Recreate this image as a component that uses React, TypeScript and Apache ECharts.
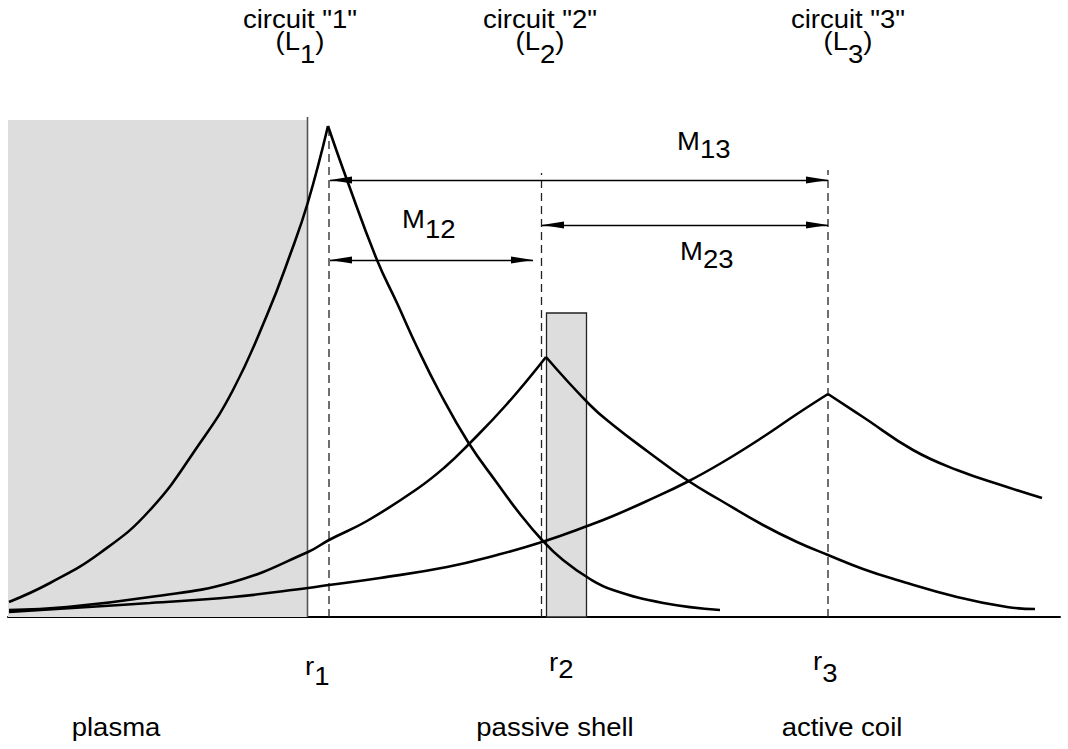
import { useEffect, useRef } from "react";
import * as echarts from "echarts";

// ---- data (x: radial position, y: field amplitude) ----
const curve1Left = [[9, 15], [50, 34], [100, 64], [150, 107], [200, 174], [233, 227], [267, 302], [290, 362], [308, 415], [328, 491]];
const curve1Right = [[328, 491], [347, 437], [377, 357], [397, 314], [417, 270], [440, 224], [468, 175], [497, 134], [520, 103], [542, 77], [563, 57], [590, 38], [613, 27], [663, 14], [720, 7]];
const curve2Left = [[9, 7], [67, 10], [150, 20], [233, 35], [308, 65], [329, 77], [367, 96], [417, 128], [445, 150], [468, 172], [507, 213], [546, 260]];
const curve2Right = [[546, 260], [590, 212], [613, 192], [647, 166], [687, 137], [720, 117], [763, 92], [797, 75], [828, 62], [863, 48], [897, 37], [957, 20], [1007, 10], [1035, 8]];
const curve3Left = [[9, 5], [150, 14], [233, 20], [308, 29], [329, 32], [380, 39], [447, 50], [497, 62], [542, 75], [590, 92], [613, 101], [647, 116], [687, 135], [723, 155], [763, 180], [797, 203], [828, 223]];
const curve3Right = [[828, 223], [863, 200], [913, 167], [957, 147], [1007, 130], [1042, 119]];

const radii = [329, 541.5, 828];
const radiusTops = [491, 444, 447];
const plasmaRegion = [8, 307.5, 497]; // xStart, xEnd, top
const plasmaWallTop = 500;
const shellRegion = [546.5, 586.5, 304];

// mutual inductance arrows: [xFrom, xTo, y]
const arrowM13 = [330, 828, 437];
const arrowM12 = [330, 533, 357];
const arrowM23 = [542, 828, 392];

const circuitLabels = ['circuit "1"', 'circuit "2"', 'circuit "3"'];
const circuitSubs = ["1", "2", "3"];
const radiusSubs = ["1", "2", "3"];
const regionLabels = ["plasma", "passive shell", "active coil"];
const mutualSubs = ["13", "12", "23"];

const FONT = '25px "Liberation Sans", Arial, Helvetica, sans-serif';
const SX = 1.1;
const FS = 25;

function txt(text: string, x: number, baseline: number, align: string = "left") {
  return {
    type: "text",
    x,
    y: baseline - 0.3465 * FS,
    scaleX: SX,
    silent: true,
    style: {
      text,
      font: FONT,
      fill: "#000",
      align,
      textAlign: align,
      verticalAlign: "middle",
      textVerticalAlign: "middle",
    },
  };
}

function buildGraphics() {
  const g: any[] = [];
  const circuitX = [300, 540, 848];
  circuitX.forEach((cx, i) => {
    g.push(txt(circuitLabels[i], cx, 28, "center"));
    g.push(txt("(L", cx, 50, "right"));
    g.push(txt(circuitSubs[i], cx, 63, "left"));
    g.push(txt(")", cx + 0.556 * FS * SX, 50, "left"));
  });
  // radius labels
  const rX = [305, 549, 813];
  const rBase = [675, 671, 670];
  const rSubBase = [685, 678, 682];
  rX.forEach((x, i) => {
    g.push(txt("r", x, rBase[i], "left"));
    g.push(txt(radiusSubs[i], x + 0.333 * FS * SX, rSubBase[i], "left"));
  });
  // region labels
  const regX = [116, 555, 842];
  regX.forEach((x, i) => g.push(txt(regionLabels[i], x, 736, "center")));
  // mutual inductance labels
  const mX = [677, 402, 680];
  const mBase = [150, 228, 260];
  const mSubBase = [158, 238, 268];
  mX.forEach((x, i) => {
    g.push(txt("M", x, mBase[i], "left"));
    g.push(txt(mutualSubs[i], x + 0.833 * FS * SX, mSubBase[i], "left"));
  });
  return g;
}

function curveSeries(name: string, data: number[][]) {
  return {
    name,
    type: "line",
    data,
    smooth: 0.45,
    symbol: "none",
    z: 5,
    silent: true,
    lineStyle: { color: "#000", width: 2.6 },
  };
}

function vline(name: string, x: number, top: number, style: any) {
  return {
    name,
    type: "line",
    data: [[x, 0], [x, top]],
    symbol: "none",
    silent: true,
    z: 4,
    lineStyle: style,
  };
}

export default function App() {
  const ref = useRef<HTMLDivElement>(null);
  useEffect(() => {
    if (!ref.current) return;
    const chart = echarts.init(ref.current, undefined, { renderer: "svg" });
    const dashed = { color: "#222", width: 1.3, type: [8, 5] };
    const arrowData = [arrowM13, arrowM12, arrowM23].map((a) => [
      { coord: [a[0], a[2]] },
      { coord: [a[1], a[2]] },
    ]);
    chart.setOption({
      animation: false,
      backgroundColor: "#fff",
      grid: { left: 8, right: 8, top: 117, bottom: 132 },
      xAxis: {
        type: "value",
        min: 8,
        max: 1060,
        axisLine: { show: true, onZero: false, lineStyle: { color: "#000", width: 2 } },
        axisTick: { show: false },
        axisLabel: { show: false },
        splitLine: { show: false },
      },
      yAxis: {
        type: "value",
        min: 0,
        max: 500,
        axisLine: { show: false },
        axisTick: { show: false },
        axisLabel: { show: false },
        splitLine: { show: false },
      },
      series: [
        {
          name: "regions",
          type: "line",
          data: [[plasmaRegion[0], 0]],
          symbol: "none",
          silent: true,
          z: 1,
          lineStyle: { opacity: 0 },
          markArea: {
            silent: true,
            label: { show: false },
            data: [
              [
                { coord: [plasmaRegion[0], 0], itemStyle: { color: "#dddddd", borderWidth: 0 } },
                { coord: [plasmaRegion[1], plasmaRegion[2]] },
              ],
              [
                { coord: [shellRegion[0], 0], itemStyle: { color: "#dddddd", borderColor: "#222", borderWidth: 1.3 } },
                { coord: [shellRegion[1], shellRegion[2]] },
              ],
            ],
          },
        },
        vline("plasma edge", plasmaRegion[1], plasmaWallTop, { color: "#555", width: 1.6 }),
        vline("r1", radii[0], radiusTops[0], dashed),
        vline("r2", radii[1], radiusTops[1], dashed),
        vline("r3", radii[2], radiusTops[2], dashed),
        {
          name: "arrows",
          type: "line",
          data: [[arrowM13[0], arrowM13[2]]],
          symbol: "none",
          silent: true,
          z: 4,
          lineStyle: { opacity: 0 },
          markLine: {
            silent: true,
            symbol: ["triangle", "triangle"],
            symbolSize: [7, 22],
            symbolOffset: [[0, "50%"], [0, "50%"]],
            label: { show: false },
            lineStyle: { color: "#000", width: 1.3, type: "solid" },
            itemStyle: { color: "#000" },
            data: arrowData,
          },
        },
        curveSeries("circuit 1 left", curve1Left),
        curveSeries("circuit 1 right", curve1Right),
        curveSeries("circuit 2 left", curve2Left),
        curveSeries("circuit 2 right", curve2Right),
        curveSeries("circuit 3 left", curve3Left),
        curveSeries("circuit 3 right", curve3Right),
      ],
      graphic: buildGraphics(),
    });
    return () => chart.dispose();
  }, []);
  return (
    <div
      ref={ref}
      style={{ position: "fixed", left: 0, top: 0, width: 1068, height: 749, background: "#fff" }}
    />
  );
}
